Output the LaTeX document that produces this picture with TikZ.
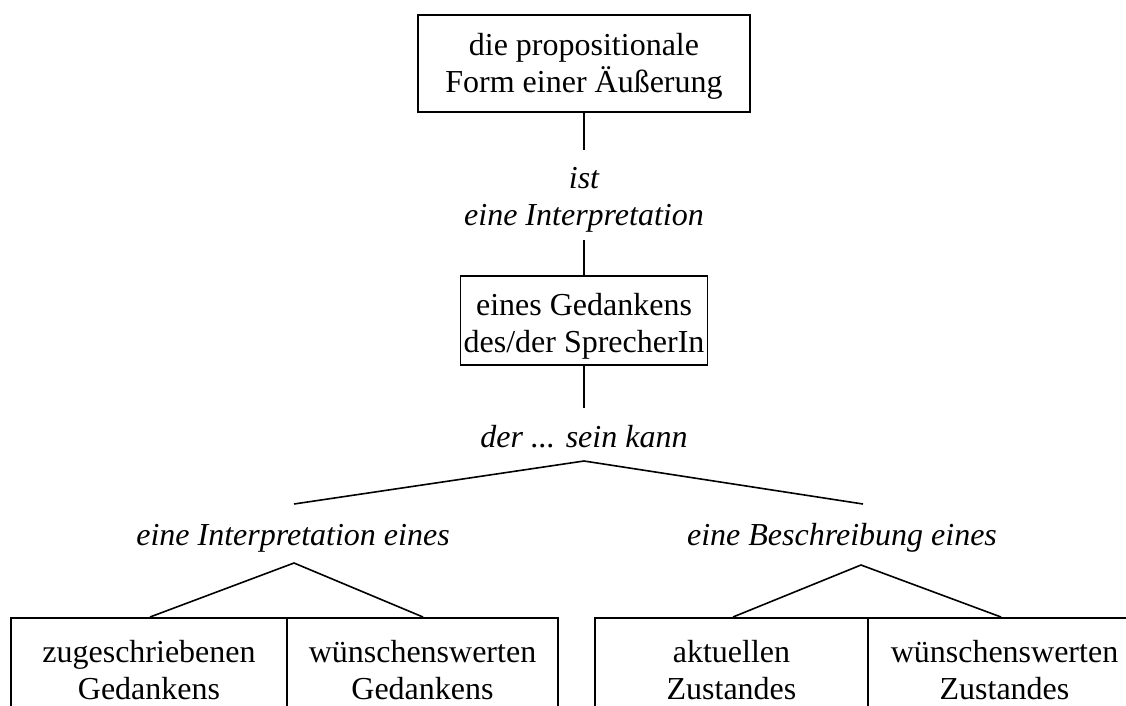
\documentclass[tikz,border=0pt]{standalone}
\usepackage{fontspec}
\setmainfont{Liberation Serif}
\newcommand{\twolines}[2]{\begin{tabular}[t]{@{}c@{}}#1\\#2\end{tabular}}
\begin{document}
\begin{tikzpicture}[x=1pt,y=-1pt,
  txt/.style={font=\fontsize{32}{37}\selectfont, inner sep=0pt},
  box/.style={txt, draw, line width=1.6pt, anchor=north},
  lbl/.style={inner sep=0pt, font=\fontsize{32}{37}\selectfont\itshape, anchor=base},
  conn/.style={line width=1.6pt}]
\useasboundingbox (0,0) rectangle (1126,705);
\clip (0,0) rectangle (1126,705);
\fill[white] (0,0) rectangle (1126,705);

% top part
\node[box, minimum width=332pt, text height=41pt, text depth=56pt] (top) at (584,14)
  {\twolines{die propositionale}{Form einer Äußerung}};
\coordinate (c1) at (584,150);
\node[lbl] (lab1) at (584,188) {\twolines{ist}{eine Interpretation}};
\coordinate (c2) at (584,240);
\node[box, minimum width=247pt, text height=40pt, text depth=49pt] (mid) at (584,275)
  {\twolines{eines Gedankens}{des/der SprecherIn}};
\coordinate (c3) at (584,408);
\node[lbl] (lab2) at (584,447) {der ... sein kann};

\draw[conn] (top.south) -- (c1);
\draw[conn] (c2) -- (mid.north);
\draw[conn] (mid.south) -- (c3);

% main branch
\coordinate (b0) at (584,461);
\coordinate (b0l) at (294,504);
\coordinate (b0r) at (863,504);
\draw[conn] (b0l) -- (b0) -- (b0r);

\node[lbl] (lab3) at (293,545) {eine Interpretation eines};
\node[lbl] (lab4) at (842,545) {eine Beschreibung eines};

% bottom cells
\node[box, minimum width=276pt, text height=45pt, text depth=120pt] (ca) at (149,617)
  {\twolines{zugeschriebenen}{Gedankens}};
\node[box, minimum width=271pt, text height=45pt, text depth=120pt] (cb) at (422.5,617)
  {\twolines{wünschenswerten}{Gedankens}};
\node[box, minimum width=273pt, text height=45pt, text depth=120pt] (cc) at (731.5,617)
  {\twolines{aktuellen}{Zustandes}};
\node[box, minimum width=273pt, text height=45pt, text depth=120pt] (cd) at (1004.5,617)
  {\twolines{wünschenswerten}{Zustandes}};

% sub branches
\coordinate (bl) at (294,563);
\coordinate (bll) at (150,617);
\coordinate (blr) at (423,617);
\draw[conn] (bll) -- (bl) -- (blr);
\coordinate (br) at (861,565);
\coordinate (brl) at (733,617);
\coordinate (brr) at (1001,617);
\draw[conn] (brl) -- (br) -- (brr);
\end{tikzpicture}
\end{document}
